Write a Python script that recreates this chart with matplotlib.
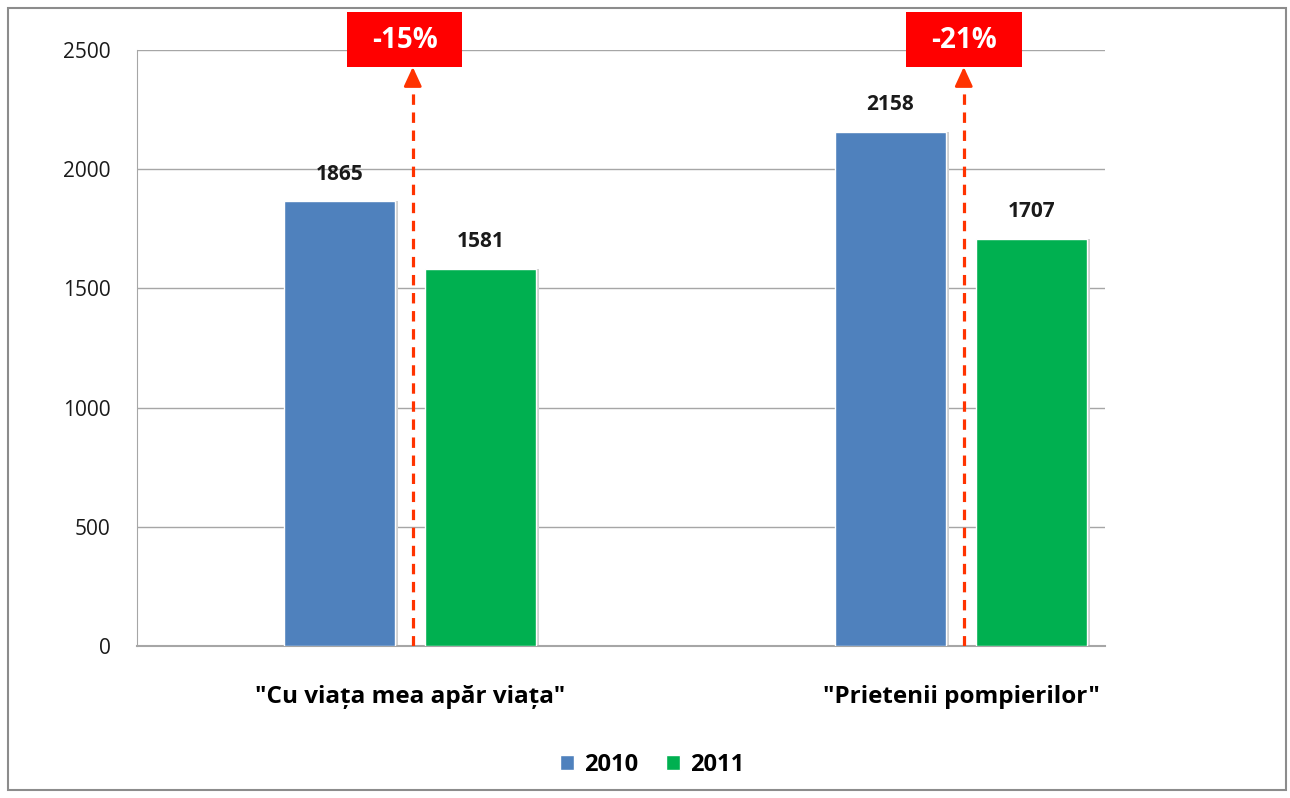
import matplotlib.pyplot as plt
from matplotlib.patches import Rectangle

# data
categories = ['"Cu viața mea apăr viața"', '"Prietenii pompierilor"']
series = ['2010', '2011']
values_2010 = [1865, 2158]
values_2011 = [1581, 1707]
changes = ['-15%', '-21%']
colors = ['#4F81BD', '#00B050']

plt.rcParams['font.family'] = ['Open Sans', 'DejaVu Sans']
plt.rcParams['lines.scale_dashes'] = False

fig = plt.figure(figsize=(12.9, 7.98), dpi=100)
W, H = 1290, 798
ax = fig.add_axes([137 / W, 1 - 646 / H, (1105 - 137) / W, (646 - 50) / H])

# outer chart border
fig.patches.append(Rectangle((8 / W, 8 / H), 1278 / W, 782 / H, transform=fig.transFigure,
                             fill=False, edgecolor='#8c8c8c', linewidth=1.5))

x = [0, 1]
off = 0.128
width = 0.2
for i, (vals, col) in enumerate(zip([values_2010, values_2011], colors)):
    xs = [xi + (2 * i - 1) * off for xi in x]
    # soft shadow
    ax.bar([v + 0.006 for v in xs], vals, width=width, color='#d0d0d0', zorder=2)
    bars = ax.bar(xs, vals, width=width, color=col, edgecolor='white', linewidth=1, zorder=3,
                  label=series[i])
    for b, v in zip(bars, vals):
        ax.text(b.get_x() + b.get_width() / 2, v + 70, str(v), ha='center', va='bottom',
                fontsize=15, fontweight='bold', color='#1a1a1a', zorder=4)

# change arrows and boxes
box_shift = [-0.01, 0.006]
for xi, lab, sh in zip(x, changes, box_shift):
    xa = xi + 0.005
    ax.plot([xa, xa], [0, 2375], color='#FF3300', lw=2.3, dashes=(7.5, 5.5), zorder=5)
    ax.annotate('', xy=(xa, 2429), xytext=(xa, 2370),
                arrowprops=dict(arrowstyle='-|>,head_length=0.65,head_width=0.3',
                                color='#FF3300', lw=2, shrinkA=0, shrinkB=0,
                                mutation_scale=18), zorder=5)
    ax.add_patch(Rectangle((xi + sh - 0.105, 2429), 0.21, 230, facecolor='#FF0000',
                           edgecolor='none', zorder=6, clip_on=False))
    ax.text(xi + sh, 2540, lab, ha='center', va='center', fontsize=20, fontweight='bold',
            color='white', zorder=7, clip_on=False)

ax.set_xlim(-0.4955, 1.2613)
ax.set_ylim(0, 2500)
ax.set_yticks(range(0, 2501, 500))
ax.yaxis.grid(True, color='#a6a6a6', linewidth=1)
ax.set_axisbelow(True)
ax.set_xticks(x)
ax.set_xticklabels(categories, fontsize=17.5, fontweight='bold')
ax.tick_params(axis='x', length=0, pad=28)
ax.tick_params(axis='y', length=0, pad=19, labelsize=15, labelcolor='#1a1a1a')
for s in ['top', 'right']:
    ax.spines[s].set_visible(False)
ax.spines['left'].set_color('#a6a6a6')
ax.spines['bottom'].set_color('#a6a6a6')
ax.spines['bottom'].set_linewidth(1.5)

handles, labels = ax.get_legend_handles_labels()
fig.legend(handles, labels, loc='center', bbox_to_anchor=(652 / W, 1 - 765 / H), ncol=2,
           frameon=False, prop={'size': 17, 'weight': 'bold'}, handlelength=0.6,
           handleheight=0.6, columnspacing=1.2, handletextpad=0.4)

fig.savefig('out.png', dpi=100)
